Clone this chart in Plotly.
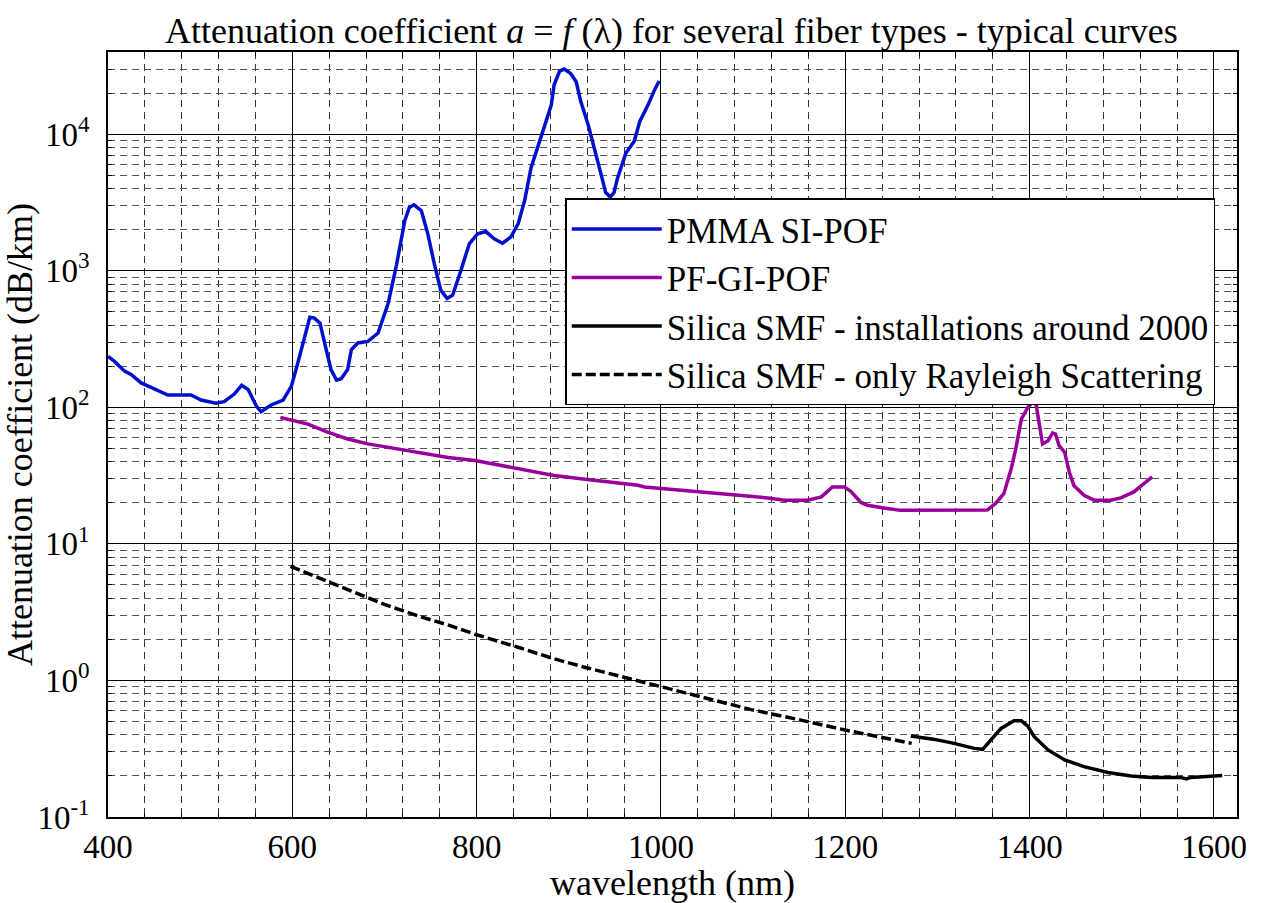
import plotly.graph_objects as go

# ---------------- data ----------------
pmma_wl = [400, 407, 418, 425, 436, 450, 465, 490, 501, 517, 526, 537, 545, 552, 561, 566,
           577, 590, 599, 606, 613, 619, 624, 630, 635, 642, 648, 653, 660, 664, 671, 682,
           693, 704, 713, 722, 727, 732, 740, 747, 754, 761, 768, 774, 783, 792, 801, 810,
           819, 828, 837, 845, 852, 859, 866, 874, 881, 884, 890, 895, 902, 908, 913, 921,
           928, 935, 940, 945, 949, 953, 962, 971, 977, 986, 993, 998]
pmma_att = [236, 217, 184, 174, 151, 137, 123, 123, 113, 107, 110, 125, 145, 135, 102, 93,
            104, 113, 143, 212, 330, 457, 450, 413, 296, 189, 158, 162, 189, 264, 296, 304,
            350, 578, 1100, 2328, 2911, 3043, 2754, 1862, 1128, 721, 628, 663, 1009, 1577, 1862, 1937,
            1714, 1592, 1762, 2203, 3252, 5675, 7937, 11740, 16400, 22900, 28950, 29980, 27850, 24200, 17330, 11740,
            7510, 5080, 3738, 3477, 3738, 4805, 7300, 8870, 12400, 16400, 21100, 24500]

pfgi_wl = [587, 599, 617, 639, 660, 682, 704, 725, 747, 769, 798, 827, 856, 884, 913, 942,
           953, 975, 982, 1025, 1047, 1072, 1094, 1116, 1134, 1159, 1174, 1186, 1199, 1206, 1217, 1224,
           1240, 1260, 1354, 1363, 1372, 1380, 1385, 1391, 1398, 1403, 1407, 1410, 1414, 1420,
           1425, 1428, 1432, 1438, 1443, 1448, 1459, 1470, 1488, 1499, 1513, 1524, 1533]
pfgi_att = [84.3, 81, 75.3, 65.6, 58.6, 54, 51, 48.2, 45.6, 42.9, 40.8, 37.5, 34.5, 31.7, 30, 28.7,
            28.1, 26.9, 26.1, 24.7, 24, 23, 22.5, 21.7, 20.9, 20.9, 22.1, 26.1, 26.1, 24.3, 20.1, 19.2,
            18.4, 17.6, 17.7, 19.8, 23.3, 35.5, 49.6, 81.9, 99.7, 109, 105, 79.6, 53.9, 57,
            64.9, 63.8, 52.4, 46.9, 33.6, 26.8, 22.7, 20.9, 20.9, 21.7, 24, 27.6, 30.9]

smf_wl = [1271, 1297, 1318, 1340, 1349, 1358, 1369, 1383, 1391, 1398, 1405, 1420, 1438, 1459,
          1485, 1510, 1532, 1564, 1570, 1575, 1609]
smf_att = [0.392, 0.370, 0.346, 0.318, 0.313, 0.366, 0.445, 0.506, 0.506, 0.463, 0.387, 0.310, 0.262, 0.234,
           0.212, 0.200, 0.195, 0.195, 0.190, 0.195, 0.201]

ray_wl = [598, 628, 664, 700, 736, 772, 798, 845, 881, 917, 958, 1000, 1043, 1098, 1152, 1200, 1272]
ray_att = [6.85, 5.63, 4.51, 3.60, 2.97, 2.51, 2.18, 1.75, 1.46, 1.25, 1.06, 0.894, 0.756, 0.611, 0.512, 0.433, 0.346]

x_ticks = [400, 600, 800, 1000, 1200, 1400, 1600]
y_ticks = [0.1, 1, 10, 100, 1000, 10000]
y_ticktext = ["10<sup>-1</sup>", "10<sup>0</sup>", "10<sup>1</sup>", "10<sup>2</sup>", "10<sup>3</sup>", "10<sup>4</sup>"]
y_minor = [m * 10.0 ** k for k in range(-1, 5) for m in range(2, 10)]

names = ["PMMA SI-POF", "PF-GI-POF", "Silica SMF - installations around 2000",
         "Silica SMF - only Rayleigh Scattering"]

FONT = "Liberation Serif"

fig = go.Figure()
fig.add_trace(go.Scatter(x=pmma_wl, y=pmma_att, mode="lines", name=names[0],
                         line=dict(color="#0010CC", width=3.5)))
fig.add_trace(go.Scatter(x=pfgi_wl, y=pfgi_att, mode="lines", name=names[1],
                         line=dict(color="#990099", width=3.5)))
fig.add_trace(go.Scatter(x=smf_wl, y=smf_att, mode="lines", name=names[2],
                         line=dict(color="black", width=3.5)))
fig.add_trace(go.Scatter(x=ray_wl, y=ray_att, mode="lines", name=names[3],
                         line=dict(color="black", width=3.5, dash="10px,4px")))

fig.update_layout(
    width=1263, height=903,
    margin=dict(l=107, r=26, t=52, b=81),
    paper_bgcolor="white", plot_bgcolor="white",
    font=dict(family=FONT, size=33, color="black"),
    title=dict(text="Attenuation coefficient <i>a</i> = <i>f</i> (λ) for several fiber types - typical curves",
               x=0.5315, xanchor="center", y=0.966, yanchor="middle",
               font=dict(family=FONT, size=36)),
    legend=dict(x=0.405, y=0.8087, xanchor="left", yanchor="top",
                bgcolor="white", bordercolor="black", borderwidth=1.5,
                font=dict(family=FONT, size=35), itemwidth=90),
    showlegend=True,
)

fig.update_xaxes(
    range=[400, 1625], tickvals=x_ticks,
    showline=True, linecolor="black", linewidth=1.5, mirror="allticks",
    ticks="inside", ticklen=8, tickcolor="black",
    showgrid=True, gridcolor="black", gridwidth=1,
    tickfont=dict(family=FONT, size=33),
    title=dict(text="wavelength (nm)", font=dict(family=FONT, size=36), standoff=0),
    minor=dict(dtick=40, tick0=400, showgrid=True, gridcolor="#333333", gridwidth=1,
               griddash="7px,5px", ticks="inside", ticklen=4, tickcolor="black"),
    zeroline=False,
)
fig.update_yaxes(
    type="log", range=[-1, 4.602],
    tickvals=y_ticks, ticktext=y_ticktext,
    showline=True, linecolor="black", linewidth=1.5, mirror="allticks",
    ticks="inside", ticklen=8, tickcolor="black", ticklabelstandoff=10,
    showgrid=True, gridcolor="black", gridwidth=1,
    tickfont=dict(family=FONT, size=33),
    title=dict(text="Attenuation coefficient (dB/km)", font=dict(family=FONT, size=36), standoff=0),
    minor=dict(tickmode="array", tickvals=y_minor, showgrid=True, gridcolor="#555555", gridwidth=1,
               griddash="7px,5px", ticks="inside", ticklen=4, tickcolor="black"),
    zeroline=False,
)

fig.write_html("out.html")
